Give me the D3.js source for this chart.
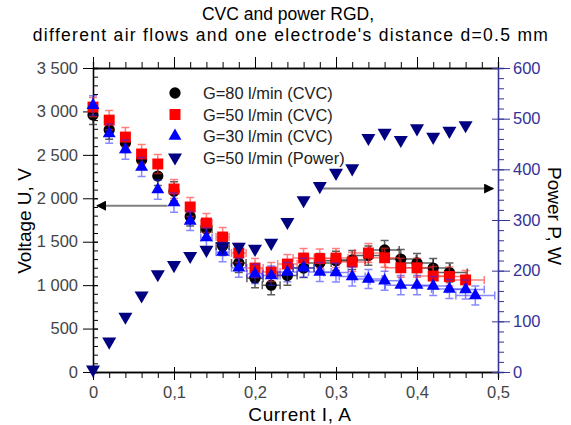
<!DOCTYPE html>
<html>
<head>
<meta charset="utf-8">
<script src="https://cdn.jsdelivr.net/npm/d3@7"></script>
<style>
  body { margin: 0; background: #fff; }
  svg { font-family: "Liberation Sans", Arial, sans-serif; }
</style>
</head>
<body>
<div id="chart"></div>
<script>
// Chart size
const width = 571;
const height = 425;
const margin = {top: 68, right: 73, bottom: 53, left: 93};
const plotW = width - margin.left - margin.right;
const plotH = height - margin.top - margin.bottom;

// Current values (A) shared by the CVC series
const current = [0, 0.02, 0.04, 0.06, 0.08, 0.10, 0.12, 0.14, 0.16, 0.18, 0.20, 0.22,
  0.24, 0.26, 0.28, 0.30, 0.32, 0.34, 0.36, 0.38, 0.40, 0.42, 0.44, 0.46, 0.472];
// Current error (A)
const currentErr = [0, 0.001, 0.002, 0.003, 0.004, 0.005, 0.006, 0.007, 0.008, 0.009, 0.010, 0.011,
  0.012, 0.013, 0.014, 0.015, 0.016, 0.017, 0.018, 0.019, 0.020, 0.021, 0.022, 0.023, 0.024];
// Voltage error (V)
const voltageErr = 110;

// Voltage U (V)
const u80 = [2960, 2790, 2636, 2440, 2256, 2080, 1790, 1646, 1450, 1255, 1080, 1000,
  1110, 1197, 1255, 1280, 1290, 1340, 1405, 1300, 1255, 1197, 1145];
const u50 = [3050, 2900, 2705, 2510, 2395, 2107, 1900, 1715, 1554, 1370, 1197, 1151,
  1243, 1312, 1305, 1312, 1266, 1370, 1315, 1200, 1200, 1105, 1100, 1060];
const u30 = [3070, 2745, 2560, 2360, 2100, 1950, 1738, 1548, 1380, 1200, 1130, 1110,
  1150, 1200, 1151, 1145, 1100, 1071, 1050, 1000, 1000, 990, 955, 950, 880];
// Power P (W), G=50
const power = [5, 60, 109, 151, 193, 211, 229, 241, 248, 247, 243, 255,
  296, 339, 367, 393, 402, 462, 472, 458, 481, 464, 476, 487];

// Tick labels
const xTicks = [0, 0.1, 0.2, 0.3, 0.4, 0.5];
const xTickLabels = ["0", "0,1", "0,2", "0,3", "0,4", "0,5"];
const uTicks = [0, 500, 1000, 1500, 2000, 2500, 3000, 3500];
const uTickLabels = ["0", "500", "1 000", "1 500", "2 000", "2 500", "3 000", "3 500"];
const pTicks = [0, 100, 200, 300, 400, 500, 600];

const legendLabels = ["G=80 l/min (CVC)", "G=50 l/min (CVC)", "G=30 l/min (CVC)", "G=50 l/min (Power)"];

const navy = "#000080";
const axisBlue = "#333399";
const labelGray = "#444";
const tickFont = "16.5px";

const svg = d3.select("#chart")
  .append("svg")
  .attr("width", width)
  .attr("height", height);

// Title
svg.append("text")
  .attr("x", 288).attr("y", 20)
  .attr("text-anchor", "middle")
  .style("font-size", "17.5px")
  .text("CVC and power RGD,");
svg.append("text")
  .attr("x", 291).attr("y", 41)
  .attr("text-anchor", "middle")
  .style("font-size", "17.5px")
  .style("letter-spacing", "1.3px")
  .text("different air flows and one electrode's distance d=0.5 mm");

const g = svg.append("g")
  .attr("transform", "translate(" + margin.left + "," + margin.top + ")");

// Scales
const x = d3.scaleLinear().domain([0, 0.5]).range([0, plotW]);
const yU = d3.scaleLinear().domain([0, 3500]).range([plotH, 0]);
const yP = d3.scaleLinear().domain([0, 600]).range([plotH, 0]);

// Minor ticks
const xMinor = d3.range(0, 0.5001, 0.02);
const uMinor = d3.range(0, 3501, 100);
const pMinor = d3.range(0, 601, 20);

function styleAxis(sel, color) {
  sel.select(".domain").attr("stroke", color).attr("stroke-width", 1.3);
  sel.selectAll(".tick line").attr("stroke", color);
}

// Top frame
const topMinor = g.append("g").call(d3.axisTop(x).tickValues(xMinor).tickSize(6).tickFormat(""));
styleAxis(topMinor, "#000");
const topMajor = g.append("g").call(d3.axisTop(x).tickValues(xTicks).tickSize(11).tickFormat("").tickSizeOuter(0));
styleAxis(topMajor, "#000");

// Bottom axis
const botMinor = g.append("g")
  .attr("transform", "translate(0," + plotH + ")")
  .call(d3.axisBottom(x).tickValues(xMinor).tickSize(6).tickFormat(""));
styleAxis(botMinor, "#000");
const botMajor = g.append("g")
  .attr("transform", "translate(0," + plotH + ")")
  .call(d3.axisBottom(x).tickValues(xTicks).tickSize(8).tickSizeOuter(0)
    .tickFormat((d, i) => xTickLabels[i]));
styleAxis(botMajor, "#000");
botMajor.selectAll(".tick line").attr("y1", -5);
botMajor.selectAll(".tick text")
  .attr("y", 14)
  .attr("fill", labelGray)
  .style("font-size", tickFont);

// Left axis
const leftMinor = g.append("g").call(d3.axisLeft(yU).tickValues(uMinor).tickSize(-5).tickFormat(""));
styleAxis(leftMinor, "#000");
const leftMajor = g.append("g")
  .call(d3.axisLeft(yU).tickValues(uTicks).tickSize(10).tickSizeOuter(0)
    .tickFormat((d, i) => uTickLabels[i]));
styleAxis(leftMajor, "#000");
leftMajor.selectAll(".tick line").attr("x1", 5);
leftMajor.selectAll(".tick text")
  .attr("x", -15)
  .attr("fill", labelGray)
  .style("font-size", tickFont);

// Right axis
const rightMinor = g.append("g")
  .attr("transform", "translate(" + plotW + ",0)")
  .call(d3.axisRight(yP).tickValues(pMinor).tickSize(6).tickFormat(""));
styleAxis(rightMinor, axisBlue);
const rightMajor = g.append("g")
  .attr("transform", "translate(" + plotW + ",0)")
  .call(d3.axisRight(yP).tickValues(pTicks).tickSize(12).tickSizeOuter(0));
styleAxis(rightMajor, axisBlue);
rightMajor.selectAll(".tick line").attr("x1", -6);
rightMajor.selectAll(".tick text")
  .attr("x", 15)
  .attr("fill", axisBlue)
  .style("font-size", tickFont);

// Axis titles
svg.append("text")
  .attr("transform", "translate(31,221) rotate(-90)")
  .attr("text-anchor", "middle")
  .style("font-size", "19px")
  .text("Voltage U, V");
svg.append("text")
  .attr("transform", "translate(548,216) rotate(90)")
  .attr("text-anchor", "middle")
  .style("font-size", "19px")
  .text("Power P, W");
svg.append("text")
  .attr("x", 300).attr("y", 421)
  .attr("text-anchor", "middle")
  .style("font-size", "19px")
  .style("letter-spacing", "0.6px")
  .text("Current I, A");

// Arrows
const defs = svg.append("defs");
defs.append("marker")
  .attr("id", "arrowHead")
  .attr("viewBox", "0 0 10 10")
  .attr("refX", 9).attr("refY", 5)
  .attr("markerWidth", 5).attr("markerHeight", 5)
  .attr("markerUnits", "strokeWidth")
  .attr("orient", "auto")
  .append("path")
  .attr("d", "M0,0 L10,5 L0,10 Z")
  .attr("fill", "#000");

g.append("line")
  .attr("x1", x(0.092)).attr("y1", yU(1915))
  .attr("x2", x(0.005)).attr("y2", yU(1915))
  .attr("stroke", "#808080").attr("stroke-width", 2)
  .attr("marker-end", "url(#arrowHead)");
g.append("line")
  .attr("x1", x(0.283)).attr("y1", yP(362))
  .attr("x2", x(0.494)).attr("y2", yP(362))
  .attr("stroke", "#808080").attr("stroke-width", 2)
  .attr("marker-end", "url(#arrowHead)");

// Series
const series = [
  {values: u80, color: "#000", errColor: "rgba(40,40,40,0.75)", symbol: d3.symbolCircle, size: 100},
  {values: u50, color: "#ff0000", errColor: "rgba(255,40,40,0.6)", symbol: d3.symbolSquare, size: 120},
  {values: u30, color: "#0000ff", errColor: "rgba(40,40,255,0.55)", symbol: d3.symbolTriangle, size: 72}
];

const cap = 4;
series.forEach(s => {
  const pts = s.values.map((v, i) => ({i: current[i], u: v, ie: currentErr[i]}));
  const eg = g.append("g")
    .attr("stroke", s.errColor)
    .attr("stroke-width", 1.5)
    .attr("fill", "none");
  // vertical bars
  eg.selectAll(".v").data(pts).join("path")
    .attr("d", d => {
      const cx = x(d.i), y1 = yU(d.u + voltageErr), y2 = yU(d.u - voltageErr);
      return "M" + cx + "," + y1 + "V" + y2 +
        "M" + (cx - cap) + "," + y1 + "H" + (cx + cap) +
        "M" + (cx - cap) + "," + y2 + "H" + (cx + cap);
    });
  // horizontal bars
  eg.selectAll(".h").data(pts.filter(d => x(d.ie) > 5)).join("path")
    .attr("d", d => {
      const cy = yU(d.u), x1 = x(d.i - d.ie), x2 = x(d.i + d.ie);
      return "M" + x1 + "," + cy + "H" + x2 +
        "M" + x1 + "," + (cy - cap) + "V" + (cy + cap) +
        "M" + x2 + "," + (cy - cap) + "V" + (cy + cap);
    });
  g.append("g").selectAll("path").data(pts).join("path")
    .attr("d", d3.symbol().type(s.symbol).size(s.size))
    .attr("transform", d => "translate(" + x(d.i) + "," + yU(d.u) + ")")
    .attr("fill", s.color);
});

// Power points
g.append("g").selectAll("path").data(power).join("path")
  .attr("d", d3.symbol().type(d3.symbolTriangle).size(85))
  .attr("transform", (d, i) => "translate(" + x(current[i]) + "," + yP(d) + ") rotate(180)")
  .attr("fill", navy);

// Legend
const legendItems = [
  {symbol: d3.symbolCircle, size: 100, color: "#000", rot: 0},
  {symbol: d3.symbolSquare, size: 120, color: "#ff0000", rot: 0},
  {symbol: d3.symbolTriangle, size: 72, color: "#0000ff", rot: 0},
  {symbol: d3.symbolTriangle, size: 85, color: navy, rot: 180}
];
const legend = svg.append("g");
legendItems.forEach((item, k) => {
  const ly = 93 + k * 21.5;
  legend.append("path")
    .attr("d", d3.symbol().type(item.symbol).size(item.size))
    .attr("transform", "translate(175," + ly + ") rotate(" + item.rot + ")")
    .attr("fill", item.color);
  legend.append("text")
    .attr("x", 203).attr("y", ly + 6)
    .attr("fill", "#222")
    .style("font-size", "16.4px")
    .text(legendLabels[k]);
});
</script>
</body>
</html>
